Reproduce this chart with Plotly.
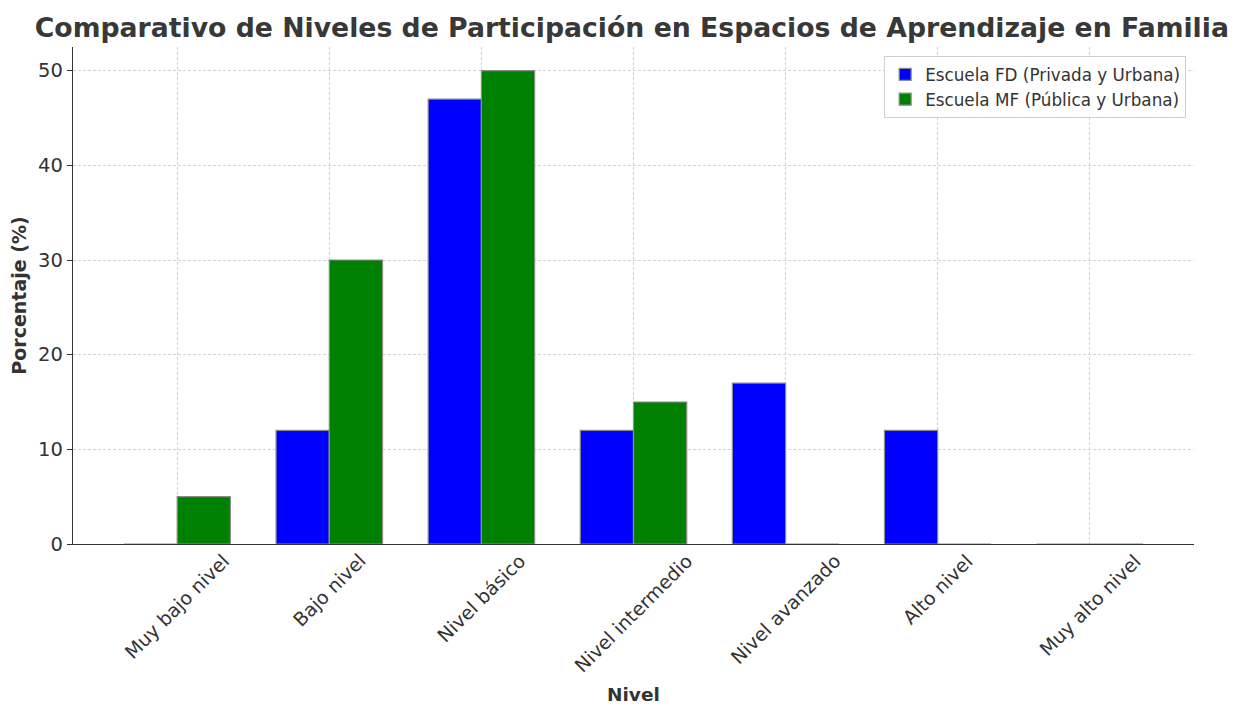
import plotly.graph_objects as go

categories = ["Muy bajo nivel", "Bajo nivel", "Nivel básico", "Nivel intermedio",
              "Nivel avanzado", "Alto nivel", "Muy alto nivel"]
fd_values = [0, 12, 47, 12, 17, 12, 0]
mf_values = [5, 30, 50, 15, 0, 0, 0]
fd_name = "Escuela FD (Privada y Urbana)"
mf_name = "Escuela MF (Pública y Urbana)"
y_ticks = [0, 10, 20, 30, 40, 50]

FONT = "DejaVu Sans"
TXT = "#333333"
OFF = 8  # page body margin in the browser

fig = go.Figure()
fig.add_trace(go.Bar(x=categories, y=fd_values, name=fd_name,
                     marker=dict(color="#0000ff", line=dict(color="#8c8c8c", width=1.2))))
fig.add_trace(go.Bar(x=categories, y=mf_values, name=mf_name,
                     marker=dict(color="#008000", line=dict(color="#8c8c8c", width=1.2))))

for c in categories:
    fig.add_annotation(x=c, xref="x", y=0, yref="paper", text=c, textangle=-45,
                       showarrow=False, xanchor="center", yanchor="top", yshift=-3,
                       font=dict(family=FONT, size=19, color=TXT))

fig.add_annotation(x=0.5, xref="paper", y=-0.302, yref="paper", text="<b>Nivel</b>",
                   showarrow=False, xanchor="center", yanchor="middle",
                   font=dict(family=FONT, size=18.5, color=TXT))

fig.update_layout(
    width=1242 - OFF, height=706 - OFF,
    margin=dict(l=73 - OFF, r=48, t=47 - OFF, b=162, autoexpand=False),
    paper_bgcolor="white", plot_bgcolor="white",
    barmode="group", bargap=0.3, bargroupgap=0,
    font=dict(family=FONT, color=TXT),
    title=dict(text="<b>Comparativo de Niveles de Participación en Espacios de Aprendizaje en Familia</b>",
               x=0.4985, xref="paper", xanchor="center", y=1 - (28 - OFF) / (706 - OFF),
               yref="container", yanchor="middle",
               font=dict(family=FONT, size=26.7, color="#383838")),
    legend=dict(x=0.993, xanchor="right", y=0.982, yanchor="top",
                bgcolor="rgba(255,255,255,0.9)", bordercolor="#d0d0d0", borderwidth=1,
                font=dict(family=FONT, size=16.8, color=TXT), tracegroupgap=2),
    xaxis=dict(type="category", range=[-0.685, 6.685], showticklabels=False,
               showgrid=True, gridcolor="#d3d3d3", griddash="3px,2px", gridwidth=1,
               showline=True, linecolor="#333333", linewidth=1.3, ticks="",
               zeroline=False),
    yaxis=dict(range=[0, 52.5], tickvals=y_ticks, showgrid=True, gridcolor="#d3d3d3",
               griddash="3px,2px", gridwidth=1, showline=True, linecolor="#333333",
               linewidth=1.3, ticks="outside", ticklen=5, tickcolor="#333333",
               tickfont=dict(family=FONT, size=19.5, color=TXT), zeroline=False,
               title=dict(text="<b>Porcentaje (%)</b>", standoff=6,
                          font=dict(family=FONT, size=19, color=TXT)),
               automargin=False),
)

fig.write_html("out.html")
